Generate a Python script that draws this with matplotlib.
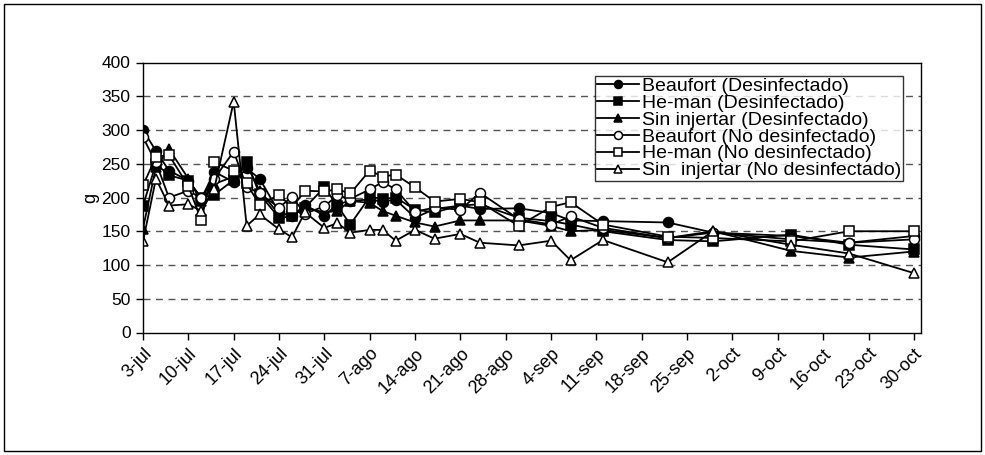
import matplotlib
matplotlib.use("Agg")
import matplotlib.pyplot as plt
from matplotlib.patches import Rectangle

plt.rcParams['font.family'] = ['Liberation Sans', 'DejaVu Sans']

# days since 3-jul
days = [0, 2, 4, 7, 9, 11, 14, 16, 18, 21, 23, 25, 28, 30, 32, 35, 37, 39, 42, 45,
        49, 52, 58, 63, 66, 71, 81, 88, 100, 109, 119]

beaufort_d = [300, 269, 240, 225, 198, 238, 223, 243, 228, 178, 172, 189, 173, 190, 195, 197,
              194, 197, 170, 183, 188, 183, 184, 177, 166, 165, 163, 148, 143, 133, 143]
heman_d = [188, 250, 233, 225, 200, 204, 226, 253, 205, 170, 172, 185, 215, 188, 160, 201,
           198, 200, 182, 178, 188, 190, 170, 165, 160, 150, 137, 135, 145, 130, 123]
sin_d = [154, 245, 272, 228, 195, 220, 231, 249, 210, 175, 175, 185, 178, 180, 195, 192,
         180, 173, 163, 157, 166, 166, 166, 158, 150, 152, 140, 150, 121, 111, 120]
beaufort_nd = [289, 252, 200, 210, 199, 228, 268, 216, 206, 185, 201, 176, 187, 203, 198, 212,
               223, 212, 179, 185, 182, 207, 168, 160, 172, 155, 140, 148, 138, 133, 138]
heman_nd = [218, 260, 263, 217, 166, 252, 240, 221, 189, 204, 185, 210, 209, 212, 206, 240,
            231, 234, 215, 194, 198, 193, 158, 186, 193, 160, 142, 140, 135, 150, 150]
sin_nd = [135, 228, 188, 190, 180, 213, 342, 158, 175, 153, 141, 178, 155, 162, 148, 152,
          152, 136, 152, 139, 146, 133, 129, 136, 107, 137, 104, 150, 130, 117, 88]

tick_days = [0, 7, 14, 21, 28, 35, 42, 49, 56, 63, 70, 77, 84, 91, 98, 105, 112, 119]
tick_labels = ['3-jul', '10-jul', '17-jul', '24-jul', '31-jul', '7-ago', '14-ago', '21-ago',
               '28-ago', '4-sep', '11-sep', '18-sep', '25-sep', '2-oct', '9-oct', '16-oct',
               '23-oct', '30-oct']
y_ticks = [0, 50, 100, 150, 200, 250, 300, 350, 400]

series = [
    ('Beaufort (Desinfectado)', beaufort_d, 'o', 'black'),
    ('He-man (Desinfectado)', heman_d, 's', 'black'),
    ('Sin injertar (Desinfectado)', sin_d, '^', 'black'),
    ('Beaufort (No desinfectado)', beaufort_nd, 'o', 'white'),
    ('He-man (No desinfectado)', heman_nd, 's', 'white'),
    ('Sin  injertar (No desinfectado)', sin_nd, '^', 'white'),
]

fig = plt.figure(figsize=(9.85, 4.55), dpi=100)
ax = fig.add_axes([143 / 985, 1 - 332.5 / 455, (921 - 143) / 985, (332.5 - 62.5) / 455])

for yv in y_ticks[1:-1]:
    ax.axhline(yv, color='#555555', lw=1.0, ls=(0, (5, 4)), zorder=0)

for label, vals, m, fc in series:
    ax.plot(days, vals, color='black', lw=1.3, marker=m, markersize=7.2,
            markerfacecolor=fc, markeredgecolor='black', markeredgewidth=1.1,
            label=label)

ax.set_xlim(0, 120.1)
ax.set_ylim(0, 400)
ax.set_yticks(y_ticks)
ax.set_xticks(tick_days)
ax.set_xticklabels(tick_labels, rotation=45, ha='right', va='top', rotation_mode='anchor')
ax.tick_params(axis='both', direction='out', length=5, width=1, colors='black', labelsize=12.5)
ax.tick_params(axis='x', labelsize=13, pad=4)
ax.tick_params(axis='y', pad=4)
for s in ax.spines.values():
    s.set_linewidth(1.0)
    s.set_color('black')
ax.set_ylabel('g', fontsize=13)
ax.yaxis.set_label_coords(-(143 - 99) / 778, 0.5)

leg = ax.legend(loc='upper right', bbox_to_anchor=(0.977, 0.95), frameon=True, fancybox=False,
                edgecolor='black', fontsize=14, handlelength=2.2, handletextpad=0.15,
                labelspacing=-0.04, borderpad=0.08, borderaxespad=0, markerscale=0.8)
leg.get_frame().set_linewidth(1.0)

fig.patches.append(Rectangle((4 / 985, 4 / 455), 977 / 985, 447 / 455, transform=fig.transFigure,
                             fill=False, edgecolor='black', lw=1.0))

fig.savefig('out.png', dpi=100)
